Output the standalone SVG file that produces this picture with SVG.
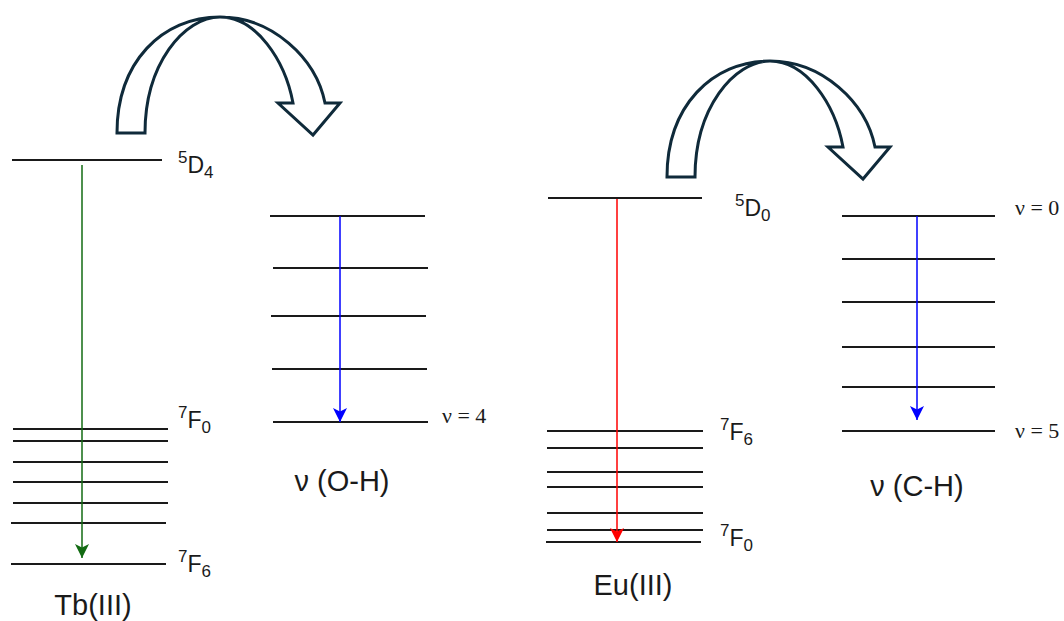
<svg xmlns="http://www.w3.org/2000/svg" width="1064" height="621" viewBox="0 0 1064 621">
<style>
.lv{stroke:#1a1a1a;stroke-width:1.8;fill:none}
.lbl{font-family:"Liberation Sans",Arial,sans-serif;font-size:23px;fill:#1a1a1a}
.sm{font-size:17px}
.name{font-family:"Liberation Sans",Arial,sans-serif;font-size:29px;fill:#1a1a1a;text-anchor:middle}
.nu{font-family:"Liberation Serif","Times New Roman",serif;font-size:22px;fill:#1a1a1a}
.bend{fill:#ffffff;stroke:#0f2a3a;stroke-width:3;stroke-linejoin:miter}
</style>
<defs>
<marker id="mg" markerUnits="userSpaceOnUse" markerWidth="16" markerHeight="16" viewBox="-15 -8 16 16" refX="0" refY="0" orient="auto"><path d="M0,0 L-14,-7 L-10.5,0 L-14,7 Z" fill="#136b13"/></marker>
<marker id="mr" markerUnits="userSpaceOnUse" markerWidth="16" markerHeight="16" viewBox="-15 -8 16 16" refX="0" refY="0" orient="auto"><path d="M0,0 L-14,-7 L-10.5,0 L-14,7 Z" fill="#ff0000"/></marker>
<marker id="mb" markerUnits="userSpaceOnUse" markerWidth="16" markerHeight="16" viewBox="-15 -8 16 16" refX="0" refY="0" orient="auto"><path d="M0,0 L-14,-7 L-10.5,0 L-14,7 Z" fill="#0000ff"/></marker>
<path id="bendArrow" d="M117,133 C117,62 162,17 220,17 C272,17 316,58 325,103 L340,103 L313,135 L278,103 L293,103 C285,60 256,17 220,17 C184,17 145,64 145,133 Z"/>
</defs>

<g id="transfer-arrows">
<use href="#bendArrow" class="bend"/>
<use href="#bendArrow" class="bend" transform="translate(550,44)"/>
</g>

<g id="tb">
<line class="lv" x1="12" y1="160" x2="162" y2="160"/>
<line class="lv" x1="13" y1="429" x2="168" y2="429"/>
<line class="lv" x1="13" y1="441" x2="168" y2="441"/>
<line class="lv" x1="13" y1="462" x2="168" y2="462"/>
<line class="lv" x1="13" y1="482" x2="168" y2="482"/>
<line class="lv" x1="13" y1="503" x2="168" y2="503"/>
<line class="lv" x1="11" y1="523" x2="166" y2="523"/>
<line class="lv" x1="11" y1="564" x2="166" y2="564"/>
<text class="lbl" x="178" y="173"><tspan class="sm" dy="-10">5</tspan><tspan dy="10">D</tspan><tspan class="sm" dy="5">4</tspan></text>
<text class="lbl" x="178" y="428"><tspan class="sm" dy="-10">7</tspan><tspan dy="10">F</tspan><tspan class="sm" dy="5">0</tspan></text>
<text class="lbl" x="178" y="572"><tspan class="sm" dy="-10">7</tspan><tspan dy="10">F</tspan><tspan class="sm" dy="5">6</tspan></text>
<text class="name" x="93" y="615">Tb(III)</text>
</g>

<g id="oh">
<line class="lv" x1="270" y1="216" x2="425" y2="216"/>
<line class="lv" x1="273" y1="268" x2="428" y2="268"/>
<line class="lv" x1="271" y1="316" x2="426" y2="316"/>
<line class="lv" x1="272" y1="369" x2="427" y2="369"/>
<line class="lv" x1="273" y1="422" x2="428" y2="422"/>
<text class="nu" x="442" y="423">ν = 4</text>
<text class="name" x="342" y="491" font-size="28">ν (O-H)</text>
</g>

<g id="eu">
<line class="lv" x1="548" y1="198" x2="702" y2="198"/>
<line class="lv" x1="547" y1="431" x2="703" y2="431"/>
<line class="lv" x1="547" y1="448" x2="703" y2="448"/>
<line class="lv" x1="547" y1="472" x2="703" y2="472"/>
<line class="lv" x1="547" y1="487" x2="703" y2="487"/>
<line class="lv" x1="547" y1="513" x2="703" y2="513"/>
<line class="lv" x1="547" y1="530" x2="703" y2="530"/>
<line class="lv" x1="546" y1="542" x2="701" y2="542"/>
<text class="lbl" x="735" y="216"><tspan class="sm" dy="-10">5</tspan><tspan dy="10">D</tspan><tspan class="sm" dy="5">0</tspan></text>
<text class="lbl" x="720" y="440"><tspan class="sm" dy="-10">7</tspan><tspan dy="10">F</tspan><tspan class="sm" dy="5">6</tspan></text>
<text class="lbl" x="720" y="546"><tspan class="sm" dy="-10">7</tspan><tspan dy="10">F</tspan><tspan class="sm" dy="5">0</tspan></text>
<text class="name" x="633" y="595" font-size="30">Eu(III)</text>
</g>

<g id="ch">
<line class="lv" x1="842" y1="216" x2="995" y2="216"/>
<line class="lv" x1="842" y1="259" x2="995" y2="259"/>
<line class="lv" x1="842" y1="302" x2="995" y2="302"/>
<line class="lv" x1="842" y1="347" x2="995" y2="347"/>
<line class="lv" x1="842" y1="387" x2="995" y2="387"/>
<line class="lv" x1="842" y1="431" x2="995" y2="431"/>
<text class="nu" x="1015" y="215">ν = 0</text>
<text class="nu" x="1015" y="438">ν = 5</text>
<text class="name" x="917" y="496" font-size="28">ν (C-H)</text>
</g>

<g id="connectors" fill="none" stroke-width="1.5">
<line x1="82" y1="165" x2="82" y2="558" stroke="#136b13" marker-end="url(#mg)"/>
<line x1="617" y1="199" x2="617" y2="542" stroke="#ff0000" marker-end="url(#mr)"/>
<line x1="340" y1="216" x2="340" y2="422" stroke="#0000ff" marker-end="url(#mb)"/>
<line x1="917" y1="216" x2="917" y2="420" stroke="#0000ff" marker-end="url(#mb)"/>
</g>
</svg>
